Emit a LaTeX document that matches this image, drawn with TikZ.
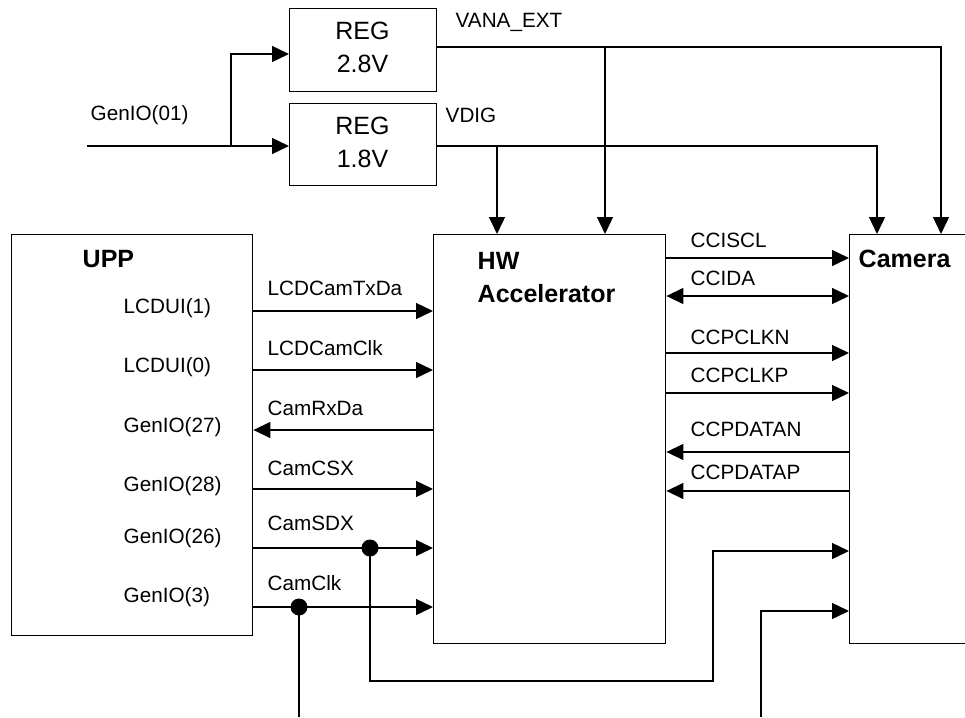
\documentclass[tikz,border=0pt]{standalone}
\usepackage{fontspec}
\setmainfont{Liberation Sans}
\usetikzlibrary{arrows.meta}
\begin{document}
\begin{tikzpicture}[x=1pt,y=-1pt, line width=1.4pt,
  box/.style={draw, line width=1.4pt, anchor=north west, inner sep=0pt},
  arr/.style={-{Triangle[length=17pt,width=16pt]}},
  darr/.style={{Triangle[length=17pt,width=16pt]}-{Triangle[length=17pt,width=16pt]}},
  lbl/.style={font=\fontsize{20.7}{22}\selectfont, anchor=west, inner sep=0pt},
  ttl/.style={font=\bfseries\fontsize{25}{33}\selectfont, anchor=west, inner sep=0pt, align=left},
  regtxt/.style={font=\fontsize{25}{33}\selectfont, align=center, inner sep=0pt},
  dotnode/.style={circle, fill, inner sep=0pt, minimum size=17pt}]
\useasboundingbox (0,0) rectangle (965,717);
\clip (0,0) rectangle (965,717);

% boxes
\node[box, minimum width=147pt, minimum height=83pt] (reg28) at (289,8) {};
\node[regtxt] (reg28t) at (362.5,47) {REG\\2.8V};
\node[box, minimum width=147pt, minimum height=82pt] (reg18) at (289,103) {};
\node[regtxt] (reg18t) at (362.5,142) {REG\\1.8V};
\node[box, minimum width=241pt, minimum height=401pt] (upp) at (11,234) {};
\node[box, minimum width=232pt, minimum height=409pt] (hw) at (433,234) {};
\node[box, minimum width=160pt, minimum height=409pt] (cam) at (849,234) {};

% titles
\node[ttl] (uppl) at (82,259) {UPP};
\node[ttl] (hwl) at (477,278) {HW\\Accelerator};
\node[ttl] (caml) at (858,259) {Camera};

% pin labels
\node[lbl] (p1l) at (123,308) {LCDUI(1)};
\node[lbl] (p2l) at (123,367) {LCDUI(0)};
\node[lbl] (p3l) at (123,427) {GenIO(27)};
\node[lbl] (p4l) at (123,486) {GenIO(28)};
\node[lbl] (p5l) at (123,538) {GenIO(26)};
\node[lbl] (p6l) at (123,597) {GenIO(3)};

% signal labels left
\node[lbl] (s1l) at (267,288) {LCDCamTxDa};
\node[lbl] (s2l) at (267,348) {LCDCamClk};
\node[lbl] (s3l) at (267,408) {CamRxDa};
\node[lbl] (s4l) at (267,468) {CamCSX};
\node[lbl] (s5l) at (267,523) {CamSDX};
\node[lbl] (s6l) at (267,583) {CamClk};

% signal labels right
\node[lbl] (c1l) at (690,240) {CCISCL};
\node[lbl] (c2l) at (690,278) {CCIDA};
\node[lbl] (c3l) at (690,337) {CCPCLKN};
\node[lbl] (c4l) at (690,375) {CCPCLKP};
\node[lbl] (c5l) at (690,429) {CCPDATAN};
\node[lbl] (c6l) at (690,472) {CCPDATAP};

% top labels
\node[lbl] (gl) at (90,115) {GenIO(01)};
\node[lbl] (val) at (455,22) {VANA\_EXT};
\node[lbl] (vdl) at (445,115) {VDIG};

% regulator inputs
\coordinate (in) at (87,146);
\coordinate (br) at (231,146);
\coordinate (r28in) at (231,54);
\draw[arr] (in) -- (in -| reg18.west);
\draw[arr] (br) -- (r28in) -- (r28in -| reg28.west);

% supplies
\coordinate (vay) at (0,47);
\coordinate (vax) at (941,0);
\coordinate (vab) at (605,47);
\coordinate (vdy) at (0,146);
\coordinate (vdx) at (877,0);
\coordinate (vdb) at (497,146);
\draw[arr] (reg28.east |- vay) -| (vax |- cam.north);
\draw[arr] (vab) -- (vab |- hw.north);
\draw[arr] (reg18.east |- vdy) -| (vdx |- cam.north);
\draw[arr] (vdb) -- (vdb |- hw.north);

% UPP <-> HW
\coordinate (ra) at (0,311);
\coordinate (rb) at (0,370);
\coordinate (rc) at (0,430);
\coordinate (rd) at (0,489);
\coordinate (re) at (0,548);
\coordinate (rf) at (0,607);
\draw[arr] (upp.east |- ra) -- (hw.west |- ra);
\draw[arr] (upp.east |- rb) -- (hw.west |- rb);
\draw[arr] (hw.west |- rc) -- (upp.east |- rc);
\draw[arr] (upp.east |- rd) -- (hw.west |- rd);
\draw[arr] (upp.east |- re) -- (hw.west |- re);
\draw[arr] (upp.east |- rf) -- (hw.west |- rf);

% HW <-> Camera
\coordinate (qa) at (0,258);
\coordinate (qb) at (0,296);
\coordinate (qc) at (0,353);
\coordinate (qd) at (0,393);
\coordinate (qe) at (0,452);
\coordinate (qf) at (0,491);
\draw[arr] (hw.east |- qa) -- (cam.west |- qa);
\draw[darr] (hw.east |- qb) -- (cam.west |- qb);
\draw[arr] (hw.east |- qc) -- (cam.west |- qc);
\draw[arr] (hw.east |- qd) -- (cam.west |- qd);
\draw[arr] (cam.west |- qe) -- (hw.east |- qe);
\draw[arr] (cam.west |- qf) -- (hw.east |- qf);

% branches to camera
\node[dotnode] (d1) at (370,548) {};
\node[dotnode] (d2) at (299,607) {};
\coordinate (k1) at (370,681);
\coordinate (k2) at (713,681);
\coordinate (k3) at (713,551);
\draw[arr] (d1.center) -- (k1) -- (k2) -- (k3) -- (k3 -| cam.west);
\coordinate (b1) at (299,717);
\draw (d2.center) -- (b1);
\coordinate (b2) at (761,717);
\coordinate (k4) at (761,611);
\draw[arr] (b2) -- (k4) -- (k4 -| cam.west);
\end{tikzpicture}
\end{document}
